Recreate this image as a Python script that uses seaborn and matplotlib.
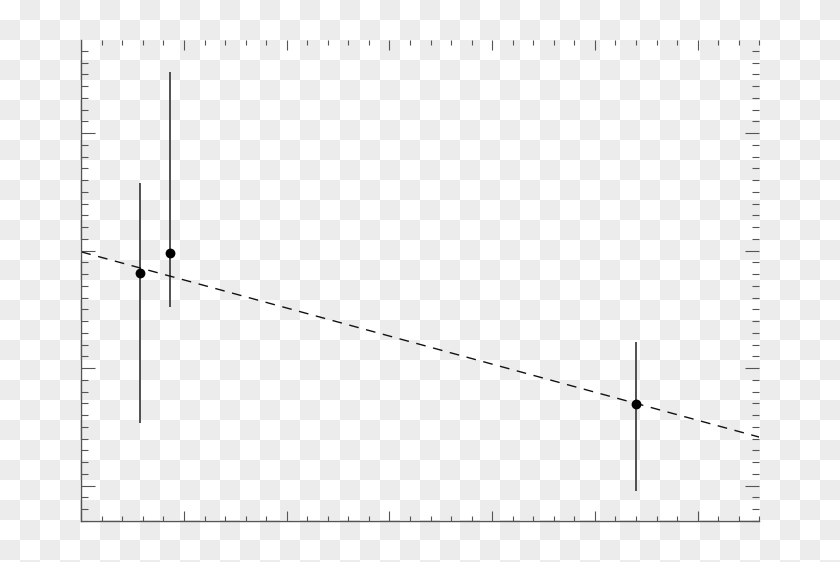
import numpy as np
import pandas as pd
import matplotlib
matplotlib.use('Agg')
import matplotlib.pyplot as plt
from matplotlib.ticker import MultipleLocator
import seaborn as sns

# measured points with asymmetric error bars
x_pts = [0.572, 0.867, 5.401]
y_pts = [1.814, 1.984, 0.697]
y_hi = [2.579, 3.523, 1.222]
y_lo = [0.533, 1.520, -0.048]

# dashed fit line, end points
fit_x = [0.0, 6.6]
fit_y = [1.990, 0.414]

sns.set_style('white')

fig = plt.figure(figsize=(8.4, 5.62), dpi=100)
fig.patch.set_alpha(0)

# transparency checkerboard behind everything
W, H = 840, 562
yy, xx = np.mgrid[0:H, 0:W]
board = np.where(((yy // 20) + (xx // 20)) % 2 == 0, 1.0, 0.922)
fig.figimage(board, xo=0, yo=0, cmap='gray', vmin=0, vmax=1, origin='upper', zorder=-5)

ax = fig.add_axes([81.3 / W, 1 - 521 / H, (759.3 - 81.3) / W, (521 - 40) / H])
ax.set_zorder(1)
ax.set_facecolor('none')

pts = pd.DataFrame({'x': x_pts, 'y': y_pts, 'hi': y_hi, 'lo': y_lo})
ax.vlines(pts['x'], pts['lo'], pts['hi'], colors='#222222', linewidth=1.1, zorder=2)
sns.scatterplot(data=pts, x='x', y='y', ax=ax, color='black', s=50,
                edgecolor='black', linewidth=0, zorder=3)

line = pd.DataFrame({'x': fit_x, 'y': fit_y})
sns.lineplot(data=line, x='x', y='y', ax=ax, color='#111111', linewidth=1.0,
             dashes=False, zorder=2)
ax.lines[-1].set_dashes((7, 5.5))

ax.set_xlim(0, 6.6)
ax.set_ylim(-0.3, 3.793)
ax.set_xlabel('')
ax.set_ylabel('')

ax.xaxis.set_major_locator(MultipleLocator(1))
ax.xaxis.set_minor_locator(MultipleLocator(0.2))
ax.yaxis.set_major_locator(MultipleLocator(1))
ax.yaxis.set_minor_locator(MultipleLocator(0.1))

tc = '#555555'
ax.tick_params(axis='x', which='major', direction='in', length=7.5, width=0.8,
               color=tc, top=True, bottom=True, labelbottom=False)
ax.tick_params(axis='x', which='minor', direction='in', length=3.8, width=0.8,
               color=tc, top=True, bottom=True)
ax.tick_params(axis='y', which='major', direction='in', length=10, width=0.8,
               color=tc, left=True, right=True, labelleft=False)
ax.tick_params(axis='y', which='minor', direction='in', length=5, width=0.8,
               color=tc, left=True, right=True)

for side in ['top', 'right']:
    ax.spines[side].set_visible(False)
for side in ['left', 'bottom']:
    ax.spines[side].set_color(tc)
    ax.spines[side].set_linewidth(1.0)

fig.savefig('out.png', dpi=100)
